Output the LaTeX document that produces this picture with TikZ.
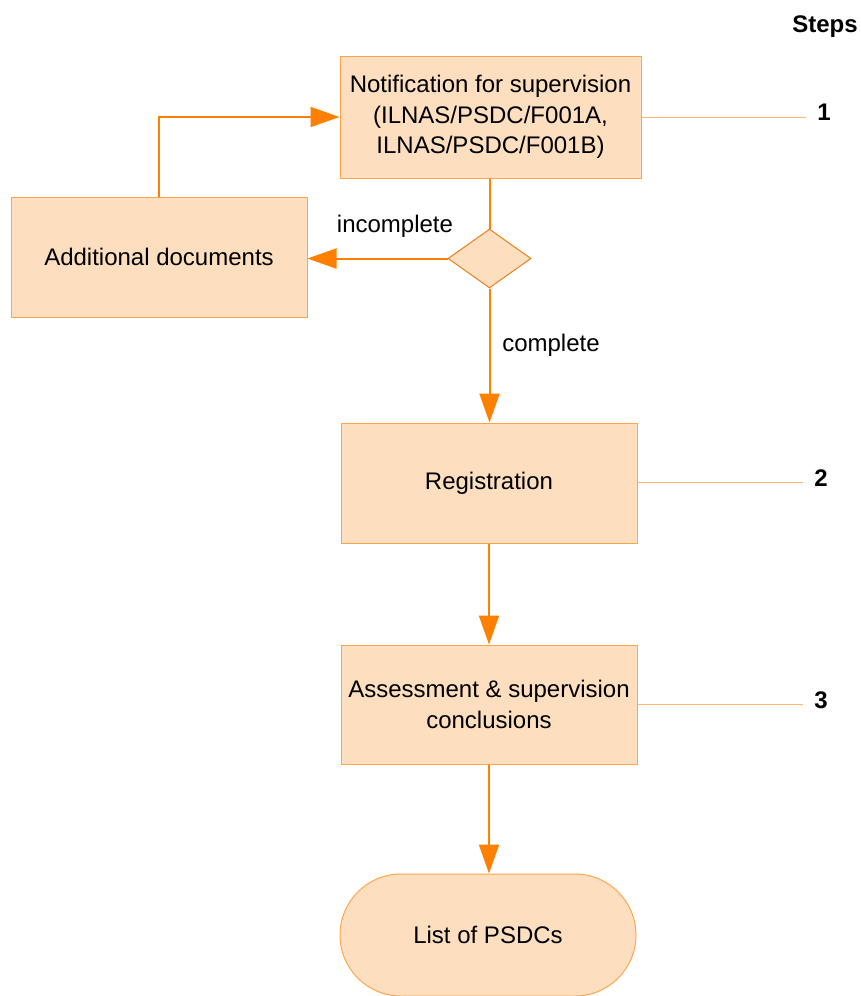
\documentclass[tikz,border=0pt]{standalone}
\usepackage{fontspec}
\setmainfont{Liberation Sans}
\usetikzlibrary{arrows.meta,shapes.geometric}
\definecolor{boxfill}{HTML}{FDDFC0}
\definecolor{boxline}{HTML}{FFA64D}
\definecolor{arrowc}{HTML}{FF8000}
\definecolor{dialine}{HTML}{E8801A}
\definecolor{stepline}{HTML}{FFB870}
\tikzset{
  procbox/.style={draw=boxline, fill=boxfill, line width=1pt, rectangle, inner sep=0pt,
    minimum width=296pt, minimum height=120pt, align=center},
  decbox/.style={draw=dialine, fill=boxfill, line width=1pt, diamond, inner sep=0pt,
    minimum width=83pt, minimum height=59pt},
  termbox/.style={draw=boxline, fill=boxfill, line width=1pt, rectangle, rounded corners=61pt,
    inner sep=0pt, minimum width=296pt, minimum height=122pt, align=center},
  flow/.style={draw=arrowc, line width=2pt, -{Triangle[length=29pt,width=20pt]}},
  flowplain/.style={draw=arrowc, line width=2pt},
  stepconn/.style={draw=stepline, line width=0.8pt},
  steplabel/.style={font=\fontsize{24}{30.5}\selectfont\bfseries, anchor=base},
  lbl/.style={anchor=base}
}
\begin{document}
\begin{tikzpicture}[x=1pt,y=-1pt,font=\fontsize{24}{30.5}\selectfont]
\useasboundingbox (0,0) rectangle (860,996);

\node[procbox, minimum width=301pt, minimum height=122pt] (notif) at (490.5,117)
  {Notification for supervision\\(ILNAS/PSDC/F001A,\\ILNAS/PSDC/F001B)};
\node[procbox] (add) at (159,257) {Additional documents};
\node[decbox] (dec) at (489.5,258.5) {};
\node[procbox] (reg) at (489,483) {Registration};
\node[procbox, minimum height=119pt] (assess) at (489,704.5) {Assessment \& supervision\\conclusions};
\node[termbox] (list) at (488,935) {List of PSDCs};

% connectors
\draw[flowplain] (dec.north |- notif.south) -- (dec.north);
\draw[flow] (dec.west) -- (add.east |- dec.west);
\draw[flow] (add.north) |- (notif.west);
\draw[flow] (dec.south) -- (dec.south |- reg.north);
\draw[flow] (reg.south) -- (assess.north);
\draw[flow] (assess.south) -- (assess.south |- list.north);

\node[lbl] (lincomplete) at (395,232) {incomplete};
\node[lbl] (lcomplete) at (551,351) {complete};

% steps
\node[steplabel] (steps) at (825,32) {Steps};
\coordinate (s1end) at (806,117);
\coordinate (s2end) at (803,482);
\coordinate (s3end) at (803,704);
\draw[stepconn] (notif.east) -- (s1end);
\draw[stepconn] (reg.east |- s2end) -- (s2end);
\draw[stepconn] (assess.east |- s3end) -- (s3end);
\node[steplabel] (n1) at (824,120) {1};
\node[steplabel] (n2) at (821,486) {2};
\node[steplabel] (n3) at (821,708) {3};
\end{tikzpicture}
\end{document}
